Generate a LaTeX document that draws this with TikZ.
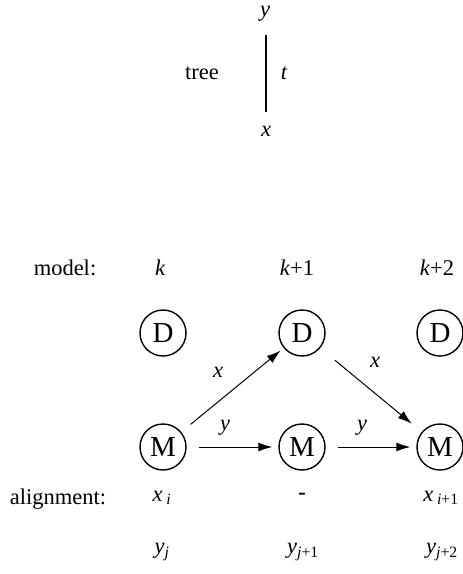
\documentclass[tikz,border=0pt]{standalone}
\usepackage{fontspec}
\setmainfont{Liberation Serif}
\usetikzlibrary{arrows.meta}
\begin{document}
\begin{tikzpicture}[x=1pt,y=-1pt,
  every node/.style={font=\fontsize{22.5}{26}\selectfont, inner sep=1pt},
  state/.style={draw, circle, line width=1.4pt, minimum size=46pt, inner sep=0pt, font=\fontsize{29}{32}\selectfont},
  arr/.style={line width=1pt, -{Latex[length=14pt,width=9pt]}, shorten <=12pt, shorten >=6pt},
  lbl/.style={font=\fontsize{22.5}{26}\selectfont\itshape}]
\useasboundingbox (0,0) rectangle (463,574);
% tree
\node[lbl] (ytop) at (265,14) {y};
\node[lbl] (xbot) at (266,131) {x};
\node (tree) at (202,73) {tree};
\node[lbl] (tlab) at (284,73) {t};
\coordinate (t1) at (266,35);
\coordinate (t2) at (266,112);
\draw[line width=1.6pt] (t1) -- (t2);
% model row
\node (model) at (65,268) {model:};
\node[lbl] (k0) at (160,268) {k};
\node (k1) at (297,268) {\textit{k}+1};
\node (k2) at (437,268) {\textit{k}+2};
% states
\node[state] (D1) at (163,333) {D};
\node[state] (D2) at (302,333) {D};
\node[state] (D3) at (440,333) {D};
\node[state] (M1) at (163,447) {M};
\node[state] (M2) at (302,447) {M};
\node[state] (M3) at (440,447) {M};
% arrows
\draw[arr, shorten >=4pt] (M1) -- (D2);
\draw[arr, shorten <=19pt, shorten >=13pt] (D2) -- (M3);
\draw[arr] (M1) -- (M2);
\draw[arr] (M2) -- (M3);
\node[lbl] (ax1) at (218,372) {x};
\node[lbl] (ax2) at (375,362) {x};
\node[lbl] (ay1) at (225,428) {y};
\node[lbl] (ay2) at (362,428) {y};
% alignment rows
\node (align) at (58,499) {alignment:};
\node (xi) at (162,498) {\textit{x}\,\textsubscript{\textit{i}}};
\node (dash) at (302,496) {\textbf{-}};
\node (xi1) at (441,498) {\textit{x}\,\textsubscript{\textit{i}+1}};
\node (yj) at (162,552) {\textit{y}\textsubscript{\textit{j}}};
\node (yj1) at (303,552) {\textit{y}\textsubscript{\textit{j}+1}};
\node (yj2) at (442,552) {\textit{y}\textsubscript{\textit{j}+2}};
\end{tikzpicture}
\end{document}
